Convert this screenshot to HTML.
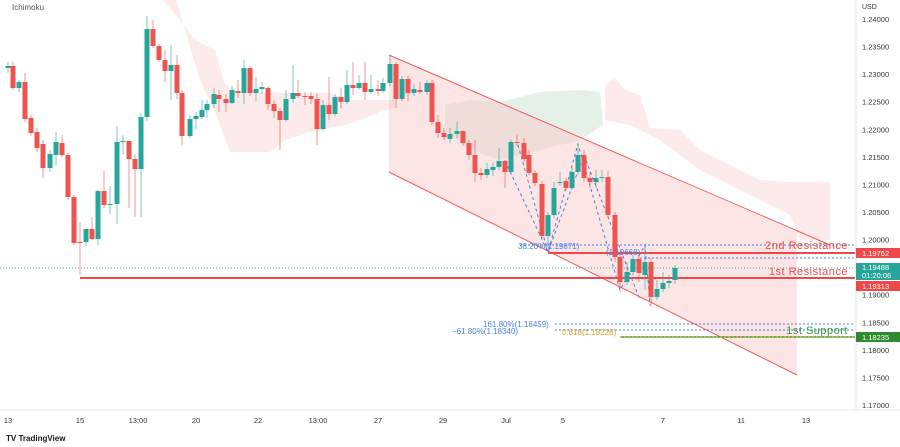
<!DOCTYPE html>
<html><head><meta charset="utf-8"><style>
body{margin:0;background:#fff;width:900px;height:447px;overflow:hidden;font-family:"Liberation Sans",sans-serif}
svg{position:absolute;left:0;top:0}
</style></head><body>
<svg id="s" width="900" height="447" xmlns="http://www.w3.org/2000/svg" font-family="Liberation Sans, sans-serif">
<rect width="900" height="447" fill="#fff"/>
<polygon fill="#fbd5d5" opacity="0.5" points="163,0 180,20 195,40 215,50 225,85 240,93 290,93 330,93 350,100 395,100 395,108 380,112 360,120 345,125 310,132 285,140 270,152 230,152 215,112 200,80 185,30 176,0"/>
<polygon fill="#e2f0e4" opacity="0.9" points="445,105 470,100 500,102 540,92 580,90 600,92 603,125 580,140 540,150 500,160 470,150 445,130"/>
<polygon fill="#fbd5d5" opacity="0.5" points="605,85 615,78 625,90 640,95 650,128 680,130 700,150 760,180 790,182 830,182 830,240 800,240 790,215 760,200 700,170 660,140 630,125 605,120"/>
<polygon fill="#f9c5c5" opacity="0.45" points="389,55 797,232 797,375 389,172"/>
<line x1="389" y1="55" x2="830" y2="245" stroke="#f05a5a" stroke-width="1"/>
<line x1="389" y1="172" x2="797" y2="375" stroke="#f05a5a" stroke-width="1"/>
<line x1="0" y1="268" x2="855" y2="268" stroke="#2ab09a" stroke-width="1" stroke-dasharray="1,2"/>
<line x1="520" y1="245" x2="855" y2="245" stroke="#4a80e0" stroke-width="1" stroke-dasharray="2,2"/>
<line x1="640" y1="258" x2="855" y2="258" stroke="#4a80e0" stroke-width="1" stroke-dasharray="2,2"/>
<line x1="548" y1="253" x2="855" y2="253" stroke="#f04848" stroke-width="2"/>
<line x1="80" y1="278" x2="855" y2="278" stroke="#f04848" stroke-width="2"/>
<line x1="555" y1="324" x2="855" y2="324" stroke="#4a80e0" stroke-width="1" stroke-dasharray="2,2"/>
<line x1="555" y1="330" x2="855" y2="330" stroke="#4a80e0" stroke-width="1" stroke-dasharray="2,2"/>
<line x1="620" y1="337" x2="855" y2="337" stroke="#3a9a3a" stroke-width="1.5"/>
<line x1="620" y1="337" x2="855" y2="337" stroke="#d4b020" stroke-width="1" stroke-dasharray="2,2"/>
<polyline fill="none" stroke="#4a80e0" stroke-width="1" stroke-dasharray="3,3" points="518,145 548,252 578,144 620,290 645,245 650,305"/>
<polyline fill="none" stroke="#4a80e0" stroke-width="1" stroke-dasharray="3,3" points="505,161 548,252 584,155 640,300"/>
<g id="c"></g>
<text x="518" y="249" font-size="8" fill="#4a80e0">38.20%(1.19871)</text>
<text x="606" y="255" font-size="8" fill="#4a80e0">(1.19668)</text>
<text x="483" y="327" font-size="8" fill="#4a80e0">161.80%(1.18459)</text>
<text x="452" y="334" font-size="8" fill="#4a80e0">−61.80%(1.18340)</text>
<text x="562" y="335" font-size="8" fill="#d4a020">0.618(1.18226)</text>
<text x="848" y="249" font-size="11" fill="#f04848" text-anchor="end" letter-spacing="0.5">2nd Resistance</text>
<text x="848" y="275" font-size="11" fill="#f04848" text-anchor="end" letter-spacing="0.5">1st Resistance</text>
<text x="848" y="334" font-size="11" fill="#3a9a3a" text-anchor="end" letter-spacing="0.5">1st Support</text>
<text x="12" y="10" font-size="8" fill="#555">Ichimoku</text>
<line x1="856" y1="0" x2="856" y2="410" stroke="#e0e3eb"/>
<line x1="0" y1="410" x2="900" y2="410" stroke="#e0e3eb"/>
<g id="ax" font-size="7.5" fill="#333"></g>
<rect x="856" y="248" width="44" height="10" fill="#f04848"/><text x="862" y="256" font-size="7.5" fill="#fff">1.19762</text>
<rect x="856" y="263" width="44" height="17" fill="#26a69a"/><text x="862" y="270" font-size="7.5" fill="#fff">1.19488</text><text x="862" y="278" font-size="7.5" fill="#fff">01:20:06</text>
<rect x="856" y="281" width="44" height="10" fill="#f04848"/><text x="862" y="289" font-size="7.5" fill="#fff">1.19313</text>
<rect x="856" y="332" width="44" height="10" fill="#2e8b2e"/><text x="862" y="340" font-size="7.5" fill="#fff">1.18235</text>
<text x="862" y="9" font-size="7" fill="#333">USD</text>
<g font-size="7.5" fill="#333" text-anchor="middle">
<text x="8" y="423">13</text><text x="80" y="423">15</text><text x="138" y="423">13:00</text><text x="196" y="423">20</text><text x="258" y="423">22</text><text x="318" y="423">13:00</text><text x="378" y="423">27</text><text x="443" y="423">29</text><text x="506" y="423">Jul</text><text x="563" y="423">5</text><text x="663" y="423">7</text><text x="741" y="423">11</text><text x="806" y="423">13</text>
</g>
<text x="6" y="441" font-size="8" font-weight="bold" fill="#131722">TV TradingView</text>
</svg>
<script>
var G="#26a69a",R="#ef5350";
var d=[[8,68,66,62,73],[13,66,88,62,90],[19,88,82,80,92],[25,82,119,73,122],[31,118,133,115,136],[37,132,148,128,152],[43,144,168,140,178],[50,168,154,150,172],[56,155,142,132,165],[62,143,155,135,157],[68,155,197,153,200],[74,197,243,195,245],[80,242,243,222,275],[86,242,229,229,246],[92,229,239,217,240],[98,239,191,190,245],[104,191,205,171,208],[110,205,204,186,214],[117,204,142,126,224],[123,142,141,135,155],[129,141,159,154,208],[135,159,169,154,217],[141,169,117,113,217],[147,117,29,16,121],[153,29,46,20,48],[159,46,60,44,62],[165,60,71,50,82],[171,71,65,45,100],[177,65,93,55,99],[182,93,136,90,145],[190,136,119,115,138],[196,119,116,112,129],[202,117,110,100,119],[207,110,104,100,118],[214,104,94,88,108],[219,95,99,90,112],[226,99,103,94,112],[232,103,90,86,104],[238,91,93,80,98],[244,93,68,60,104],[250,68,93,66,96],[256,93,89,77,101],[262,89,87,82,94],[268,88,104,86,110],[274,104,111,100,118],[280,111,120,108,150],[286,120,99,90,122],[293,99,93,65,103],[298,93,96,80,98],[305,96,97,92,105],[311,96,99,92,104],[317,99,129,93,145],[323,129,105,100,131],[329,105,114,77,120],[335,114,97,94,116],[341,97,102,88,108],[347,102,85,70,104],[353,85,88,62,95],[359,88,83,75,90],[365,83,92,62,100],[371,92,89,75,94],[378,89,91,80,96],[383,91,83,78,93],[390,83,64,55,86],[396,64,99,62,108],[402,99,79,76,101],[408,79,93,76,101],[414,93,89,84,96],[420,90,92,82,94],[427,92,83,80,95],[432,83,122,80,125],[438,122,133,115,138],[444,133,137,128,140],[450,139,134,128,143],[457,134,131,122,138],[463,131,143,130,146],[469,143,155,140,160],[475,155,173,140,182],[481,173,175,168,180],[487,175,169,163,178],[493,170,167,163,176],[499,167,161,148,170],[505,161,172,160,188],[511,172,142,140,174],[517,142,143,134,146],[524,143,159,138,162],[529,155,173,150,175],[535,173,183,170,186],[542,184,236,181,238],[548,236,215,212,248],[554,215,188,182,218],[560,183,182,172,186],[566,181,188,178,191],[572,188,172,168,190],[578,172,155,144,175],[584,155,178,150,182],[590,178,182,172,188],[596,182,178,170,188],[602,178,177,170,182],[608,177,215,171,218],[615,215,257,212,262],[620,257,282,254,292],[627,282,272,262,285],[633,272,259,255,276],[639,259,273,256,282],[645,275,262,245,290],[651,262,297,258,307],[657,297,289,280,300],[663,289,283,272,292],[669,283,281,275,288],[675,280,268,265,284]];
var s='';d.forEach(function(c){var col=c[2]<c[1]?G:R;var t=Math.min(c[1],c[2]),b=Math.max(Math.max(c[1],c[2])-t,1);
s+='<line x1="'+c[0]+'" y1="'+c[3]+'" x2="'+c[0]+'" y2="'+c[4]+'" stroke="'+col+'" stroke-width="1" opacity="0.6"/>';
s+='<rect x="'+(c[0]-2.5)+'" y="'+t+'" width="5" height="'+b+'" fill="'+col+'"/>';});
document.getElementById('c').innerHTML=s;
var a='';for(var i=0;i<15;i++){var p=1.24-i*0.005,y=19+i*27.57;a+='<text x="862" y="'+(y+3)+'">'+p.toFixed(5)+'</text>';}
document.getElementById('ax').innerHTML=a;
</script>
</body></html>
